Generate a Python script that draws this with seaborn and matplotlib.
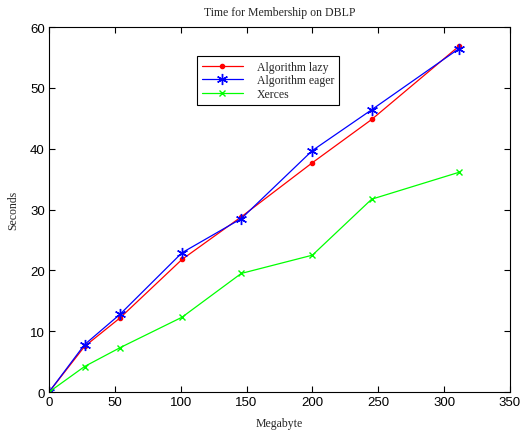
import matplotlib
matplotlib.use("Agg")
import matplotlib.pyplot as plt
import seaborn as sns
import pandas as pd

# Document size (MB) and query time (s) for each implementation
megabytes = [0, 27, 54, 101, 146, 200, 245, 311]
lazy = [0, 7.5, 12.2, 21.8, 28.8, 37.7, 44.8, 56.8]
eager = [0, 7.8, 12.8, 22.9, 28.5, 39.7, 46.4, 56.4]
xerces = [0, 4.2, 7.3, 12.3, 19.5, 22.5, 31.7, 36.1]

series_names = ["Algorithm lazy", "Algorithm eager", "Xerces"]
x_ticks = [0, 50, 100, 150, 200, 250, 300, 350]
y_ticks = [0, 10, 20, 30, 40, 50, 60]

df = pd.DataFrame({
    "Megabyte": megabytes * 3,
    "Seconds": lazy + eager + xerces,
    "series": [series_names[0]] * len(megabytes)
    + [series_names[1]] * len(megabytes)
    + [series_names[2]] * len(megabytes),
})

sns.set_theme(style="white")
plt.rcParams["font.family"] = ["Liberation Serif", "DejaVu Serif"]

fig = plt.figure(figsize=(5.25, 4.31), dpi=100)
ax = fig.add_axes([0.0933, 0.088, 0.878, 0.847])

palette = {series_names[0]: "#ff0000", series_names[1]: "#0000ff", series_names[2]: "#00ff00"}
markers = {series_names[0]: ".", series_names[1]: (6, 2, 0), series_names[2]: "x"}
sizes = {series_names[0]: 6, series_names[1]: 8, series_names[2]: 5}

for name in series_names:
    sub = df[df["series"] == name]
    sns.lineplot(data=sub, x="Megabyte", y="Seconds", ax=ax, color=palette[name],
                 marker=markers[name], markersize=sizes[name], linewidth=0.9,
                 markeredgecolor=palette[name], markeredgewidth=1.0,
                 label=name, sort=False)

ax.set_xlim(0, 350)
ax.set_ylim(0, 60)
ax.set_xticks(x_ticks)
ax.set_yticks(y_ticks)
ax.tick_params(direction="in", length=4, width=0.8, top=True, right=True,
               bottom=True, left=True, labelsize=9.5, colors="black", pad=3)
for lbl in ax.get_xticklabels() + ax.get_yticklabels():
    lbl.set_family(["Liberation Sans", "DejaVu Sans"])
for spine in ax.spines.values():
    spine.set_color("black")
    spine.set_linewidth(0.8)

ax.set_xlabel("Megabyte", fontsize=8.5, labelpad=6)
ax.set_ylabel("Seconds", fontsize=8.5, labelpad=8)
ax.set_title("Time for Membership on DBLP", fontsize=8.5, pad=9)

leg = ax.legend(loc="upper left", bbox_to_anchor=(0.308, 0.937), fontsize=8.5,
                frameon=True, fancybox=False, edgecolor="black", framealpha=1,
                borderpad=0.4, labelspacing=0.15, handlelength=3.5, handletextpad=1.2)
leg.get_frame().set_linewidth(0.8)

fig.savefig("out.png", dpi=100)
